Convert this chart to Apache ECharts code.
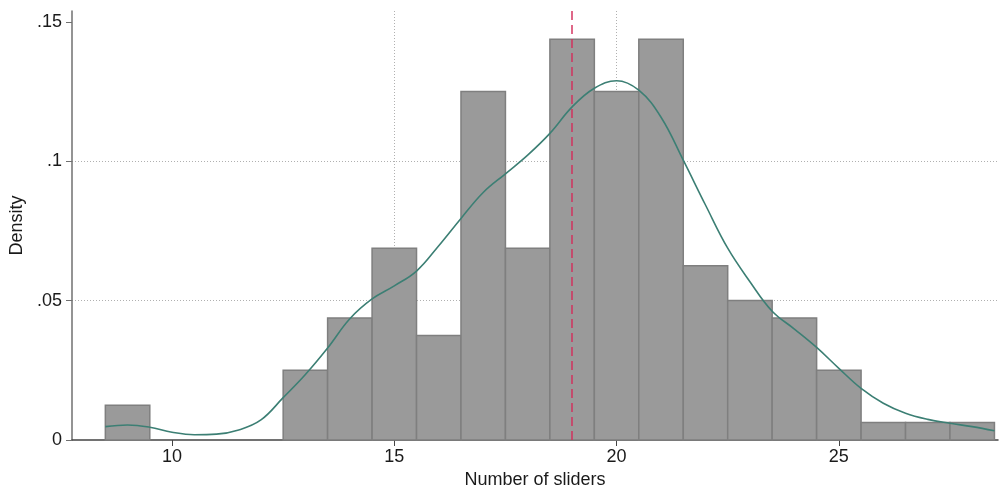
<!DOCTYPE html>
<html>
<head>
<meta charset="utf-8">
<script src="https://cdn.jsdelivr.net/npm/echarts@6/dist/echarts.min.js"></script>
<style>
  html, body { margin: 0; padding: 0; background: #fff; }
  #chart { width: 999px; height: 487px; }
</style>
</head>
<body>
<div id="chart"></div>
<script>
// histogram bins (centre of each unit-wide bin) and their density
const binCenters = [9, 13, 14, 15, 16, 17, 18, 19, 20, 21, 22, 23, 24, 25, 26, 27, 28];
const binDensity = [0.0125, 0.025, 0.04375, 0.06875, 0.0375, 0.125, 0.06875, 0.14375,
  0.125, 0.14375, 0.0625, 0.05, 0.04375, 0.025, 0.00625, 0.00625, 0.00625];

// kernel density line
const kdeX = [8.5, 9, 9.5, 10, 10.5, 11, 11.5, 12, 12.5, 13, 13.5, 14, 14.5, 15, 15.5,
  16, 16.5, 17, 17.5, 18, 18.5, 19, 19.5, 20, 20.5, 21, 21.5, 22, 22.5, 23, 23.5,
  24, 24.5, 25, 25.5, 26, 26.5, 27, 27.5, 28, 28.5];
const kdeY = [0.0048, 0.0054, 0.0046, 0.0028, 0.0019, 0.0021, 0.0036, 0.0072, 0.0152,
  0.0235, 0.033, 0.0435, 0.0506, 0.0553, 0.0606, 0.0697, 0.0795, 0.0888, 0.0955, 0.1022,
  0.110, 0.1195, 0.1262, 0.1289, 0.1255, 0.1158, 0.1004, 0.0843, 0.0688, 0.0568, 0.0462,
  0.0398, 0.0332, 0.0257, 0.0185, 0.0132, 0.0096, 0.0074, 0.006, 0.0048, 0.0033];

const meanLine = 19;
const xTicks = [10, 15, 20, 25];
const yTicks = [0, 0.05, 0.1, 0.15];

const chart = echarts.init(document.getElementById('chart'));

const font = 'Liberation Sans, Arial, sans-serif';
const gridLine = { show: true, showMinLine: false, showMaxLine: false,
  lineStyle: { color: '#b0b0b0', type: [1, 2], width: 1 } };

chart.setOption({
  animation: false,
  grid: { left: 72, right: 1, top: 11, bottom: 47, outerBoundsMode: 'none', containLabel: false },
  xAxis: {
    type: 'value',
    min: 7.75,
    max: 28.58,
    splitNumber: 4,
    name: 'Number of sliders',
    nameLocation: 'middle',
    nameGap: 31,
    nameTextStyle: { fontFamily: font, fontSize: 18, color: '#1a1a1a' },
    axisLine: { onZero: false, lineStyle: { color: '#444', width: 1.5 } },
    axisTick: { customValues: xTicks, length: 6, lineStyle: { color: '#444' } },
    axisLabel: { customValues: xTicks, margin: 8, fontFamily: font, fontSize: 18, color: '#1a1a1a' },
    splitLine: gridLine,
  },
  yAxis: {
    type: 'value',
    min: 0,
    max: 0.1539,
    interval: 0.05,
    name: 'Density',
    nameLocation: 'middle',
    nameGap: 46,
    nameTextStyle: { fontFamily: font, fontSize: 18, color: '#1a1a1a' },
    axisLine: { show: true, lineStyle: { color: '#707070', width: 1.5 } },
    axisTick: { show: true, customValues: yTicks, length: 6, lineStyle: { color: '#707070' } },
    axisLabel: {
      customValues: yTicks,
      margin: 10,
      fontFamily: font,
      fontSize: 18,
      color: '#1a1a1a',
      formatter: (v) => (v === 0 ? '0' : String(+v.toFixed(2)).replace(/^0/, '')),
    },
    splitLine: gridLine,
  },
  series: [
    {
      type: 'custom',
      data: binCenters.map((c, i) => [c, binDensity[i]]),
      renderItem(params, api) {
        const c = api.value(0);
        const p0 = api.coord([c - 0.5, 0]);
        const p1 = api.coord([c + 0.5, api.value(1)]);
        return {
          type: 'rect',
          shape: { x: p0[0], y: p1[1], width: p1[0] - p0[0], height: p0[1] - p1[1] },
          style: { fill: '#9a9a9a', stroke: '#7f7f7f', lineWidth: 1.5 },
        };
      },
      z: 2,
    },
    {
      type: 'line',
      data: kdeX.map((x, i) => [x, kdeY[i]]),
      smooth: 0.4,
      symbol: 'none',
      lineStyle: { color: '#3c7f74', width: 1.6 },
      z: 4,
      markLine: {
        silent: true,
        symbol: 'none',
        z: 3,
        label: { show: false },
        lineStyle: { color: '#d42f5c', type: [9, 5], width: 1.6, opacity: 0.9 },
        data: [{ xAxis: meanLine }],
      },
    },
  ],
});
</script>
</body>
</html>
